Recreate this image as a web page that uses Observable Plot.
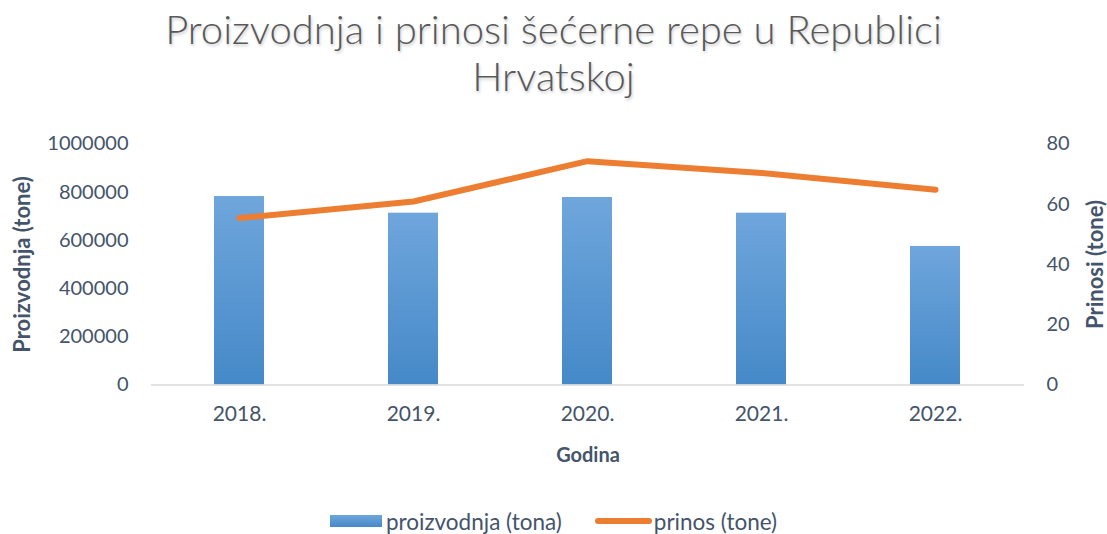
<!DOCTYPE html>
<html>
<head>
<meta charset="utf-8">
<script src="https://cdn.jsdelivr.net/npm/d3@7"></script>
<script src="https://cdn.jsdelivr.net/npm/@observablehq/plot@0.6"></script>
<style>
  body { margin: 0; background: #fff; font-family: Lato, "Open Sans", sans-serif; }
  #wrap { width: 1107px; height: 534px; position: relative; overflow: hidden; background: #fff; }
  #title { height: 118px; box-sizing: border-box; padding-top: 6px; text-align: center; color: #595959;
           font-size: 40px; font-weight: 300; line-height: 47px; text-shadow: 1px 2px 3px rgba(0,0,0,0.22); }
  #chart svg { display: block; }
  #legend { display: flex; justify-content: center; align-items: center; height: 40px; margin-top: 21px; color: #44546a; font-size: 22.5px; }
  .sw-bar { width: 52px; height: 12px; background: linear-gradient(#6fa6dc, #4589c8); margin-right: 4px; }
  .sw-line { width: 57px; height: 6px; border-radius: 3px; background: #ed7d31; margin-left: 33px; margin-right: 2px; }
</style>
</head>
<body>
<div id="wrap">
  <div id="title">Proizvodnja i prinosi šećerne repe u Republici<br>Hrvatskoj</div>
  <div id="chart"></div>
  <div id="legend">
    <div class="sw-bar"></div><span>proizvodnja (tona)</span>
    <div class="sw-line"></div><span>prinos (tone)</span>
  </div>
</div>
<script>
const godine = ["2018.", "2019.", "2020.", "2021.", "2022."];
const proizvodnja = [782000, 713000, 778000, 713000, 575000];
const prinos = [55.4, 60.9, 74.3, 70.4, 64.8];
const leftTicks = [0, 200000, 400000, 600000, 800000, 1000000];
const rightTicks = [0, 20, 40, 60, 80];

const ratio = 1000000 / 80;
const rows = godine.map((g, i) => ({ godina: g, proizvodnja: proizvodnja[i], prinos: prinos[i] }));

const textColor = "#44546a";

const defs = () => {
  const ns = "http://www.w3.org/2000/svg";
  const d = document.createElementNS(ns, "defs");
  const lg = document.createElementNS(ns, "linearGradient");
  lg.setAttribute("id", "barGrad");
  lg.setAttribute("x1", "0"); lg.setAttribute("y1", "0");
  lg.setAttribute("x2", "0"); lg.setAttribute("y2", "1");
  [["0%", "#6fa6dc"], ["100%", "#4589c8"]].forEach(([o, c]) => {
    const s = document.createElementNS(ns, "stop");
    s.setAttribute("offset", o); s.setAttribute("stop-color", c);
    lg.appendChild(s);
  });
  d.appendChild(lg);
  return d;
};

const chart = Plot.plot({
  width: 1107,
  height: 362,
  marginTop: 25.5,
  marginBottom: 95.5,
  marginLeft: 151,
  marginRight: 83,
  style: { fontFamily: "Lato, 'Open Sans', sans-serif", color: textColor, background: "#fff" },
  x: { domain: godine, paddingInner: 0.71, paddingOuter: 0.355 },
  y: { domain: [0, 1000000] },
  marks: [
    defs,
    Plot.barY(rows, { x: "godina", y: "proizvodnja", fill: "url(#barGrad)" }),
    Plot.ruleY([0], { stroke: "#d9d9d9", strokeWidth: 1.5 }),
    Plot.line(rows, { x: "godina", y: d => d.prinos * ratio, stroke: "#ed7d31", strokeWidth: 6, strokeLinecap: "round", strokeLinejoin: "round" }),
    Plot.axisX({ tickSize: 0, tickPadding: 21, fontSize: 21, label: null }),
    Plot.axisY({ anchor: "left", ticks: leftTicks, tickSize: 0, tickPadding: 23, fontSize: 20, label: null, tickFormat: d => String(d) }),
    Plot.axisY({ anchor: "right", ticks: rightTicks.map(v => v * ratio), tickSize: 0, tickPadding: 22, fontSize: 20, label: null, tickFormat: d => String(Math.round(d / ratio)) }),
    Plot.text(["Godina"], { frameAnchor: "bottom", dy: 70.5, lineAnchor: "middle", fontSize: 20, fontWeight: "bold", fill: textColor }),
    Plot.text(["Proizvodnja (tone)"], { frameAnchor: "left", dx: -129, rotate: -90, textAnchor: "middle", lineAnchor: "middle", fontSize: 22, fontWeight: "bold", fill: textColor }),
    Plot.text(["Prinosi (tone)"], { frameAnchor: "right", dx: 71, rotate: -90, textAnchor: "middle", lineAnchor: "middle", fontSize: 22, fontWeight: "bold", fill: textColor })
  ]
});
document.getElementById("chart").appendChild(chart);
</script>
</body>
</html>
